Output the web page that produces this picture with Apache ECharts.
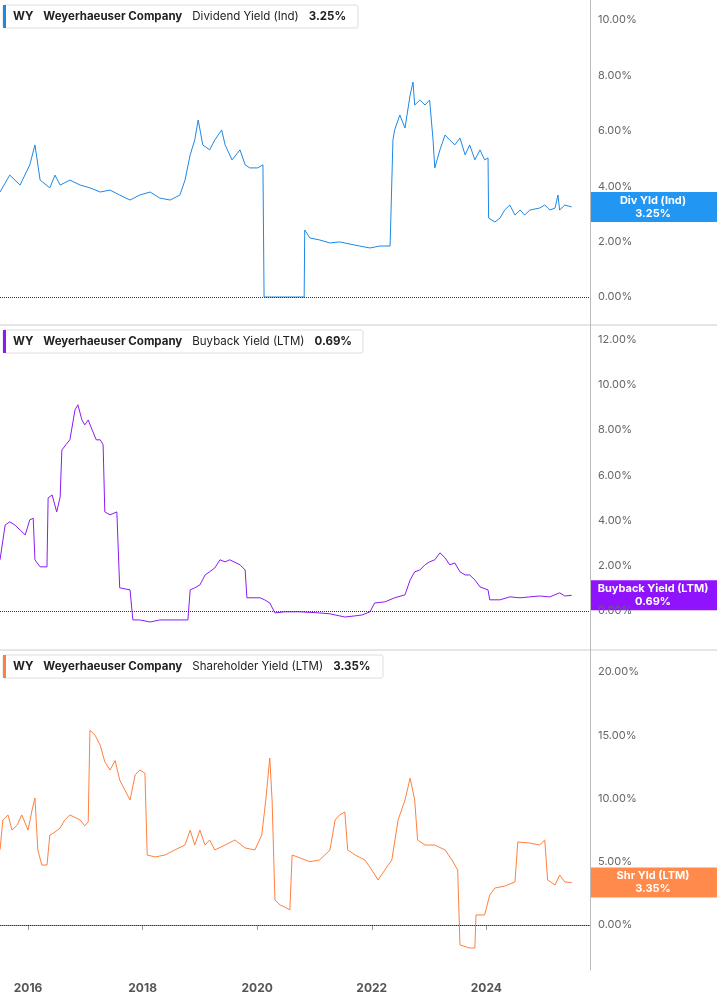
<!DOCTYPE html>
<html><head><meta charset="utf-8">
<script src="https://cdn.jsdelivr.net/npm/echarts@6/dist/echarts.min.js"></script>
<style>html,body{margin:0;padding:0;background:#fff}#c{width:717px;height:1005px}</style>
</head><body><div id="c"></div>
<script>
const yearTicks=[2016,2018,2020,2022,2024];
const divTicks=[0,2,4,6,8,10];
const bbTicks=[0,2,4,6,8,10,12];
const shTicks=[0,5,10,15,20];
const divYield=[[2015.51,3.79],[2015.68,4.40],[2015.86,4.04],[2016.03,4.77],[2016.12,5.49],[2016.21,4.22],[2016.38,3.94],[2016.47,4.40],[2016.56,4.04],[2016.73,4.22],[2016.91,4.04],[2017.08,3.94],[2017.26,3.79],[2017.43,3.86],[2017.60,3.68],[2017.78,3.50],[2017.95,3.68],[2018.13,3.79],[2018.30,3.57],[2018.48,3.50],[2018.65,3.68],[2018.74,4.22],[2018.83,5.13],[2018.91,5.67],[2018.97,6.39],[2019.05,5.49],[2019.17,5.31],[2019.26,5.67],[2019.38,6.03],[2019.44,5.49],[2019.56,4.95],[2019.70,5.31],[2019.79,4.77],[2019.87,4.66],[2020.01,4.66],[2020.10,4.77],[2020.12,0],[2020.82,0],[2020.83,2.42],[2020.92,2.13],[2021.09,2.06],[2021.27,1.95],[2021.44,1.99],[2021.62,1.91],[2021.79,1.84],[2021.97,1.77],[2022.14,1.84],[2022.32,1.84],[2022.37,5.67],[2022.40,6.03],[2022.49,6.57],[2022.58,6.10],[2022.67,7.29],[2022.72,7.76],[2022.75,6.93],[2022.84,7.11],[2022.93,6.93],[2023.01,7.11],[2023.07,5.67],[2023.10,4.66],[2023.19,5.31],[2023.28,5.85],[2023.36,5.67],[2023.45,5.49],[2023.54,5.74],[2023.63,5.13],[2023.71,5.49],[2023.80,4.95],[2023.89,5.31],[2023.97,4.95],[2024.03,5.02],[2024.04,2.85],[2024.15,2.71],[2024.24,2.85],[2024.32,3.14],[2024.41,3.32],[2024.50,2.96],[2024.59,3.14],[2024.67,2.96],[2024.76,3.14],[2024.93,3.21],[2025.02,3.32],[2025.11,3.14],[2025.20,3.21],[2025.25,3.68],[2025.28,3.14],[2025.37,3.32],[2025.49,3.25]];
const buyback=[[2015.51,2.26],[2015.60,3.80],[2015.68,3.94],[2015.77,3.80],[2015.86,3.58],[2015.95,3.36],[2016.03,4.03],[2016.09,4.10],[2016.12,2.26],[2016.21,1.95],[2016.33,1.95],[2016.35,5.00],[2016.42,5.13],[2016.50,4.38],[2016.56,5.04],[2016.59,7.12],[2016.66,7.35],[2016.73,7.57],[2016.82,8.90],[2016.87,9.12],[2016.94,8.45],[2016.99,8.23],[2017.05,8.45],[2017.12,8.00],[2017.19,7.57],[2017.26,7.57],[2017.31,7.35],[2017.34,4.38],[2017.43,4.25],[2017.55,4.38],[2017.60,1.02],[2017.78,0.93],[2017.83,-0.40],[2017.95,-0.40],[2018.13,-0.49],[2018.30,-0.40],[2018.48,-0.40],[2018.65,-0.40],[2018.79,-0.40],[2018.83,0.93],[2018.91,1.02],[2019.00,1.15],[2019.09,1.59],[2019.17,1.73],[2019.26,1.90],[2019.35,2.26],[2019.44,2.17],[2019.52,2.26],[2019.70,2.04],[2019.79,1.81],[2019.82,0.58],[2020.05,0.58],[2020.13,0.49],[2020.22,0.35],[2020.31,-0.09],[2020.48,-0.04],[2020.75,-0.04],[2021.09,-0.09],[2021.27,-0.13],[2021.53,-0.27],[2021.71,-0.22],[2021.83,-0.18],[2021.97,-0.04],[2022.05,0.35],[2022.23,0.40],[2022.40,0.58],[2022.58,0.71],[2022.67,1.37],[2022.75,1.73],[2022.84,1.81],[2022.93,2.04],[2023.01,2.17],[2023.10,2.26],[2023.19,2.57],[2023.28,2.35],[2023.36,2.04],[2023.45,2.12],[2023.54,1.73],[2023.63,1.59],[2023.71,1.59],[2023.80,1.37],[2023.89,1.06],[2024.03,0.93],[2024.06,0.49],[2024.24,0.49],[2024.41,0.62],[2024.59,0.58],[2024.76,0.62],[2024.93,0.66],[2025.11,0.62],[2025.28,0.80],[2025.37,0.66],[2025.49,0.69]];
const shareholder=[[2015.51,5.93],[2015.56,8.30],[2015.65,8.70],[2015.72,7.50],[2015.81,7.90],[2015.89,8.70],[2016.00,7.50],[2016.07,9.09],[2016.12,10.04],[2016.17,5.93],[2016.24,4.74],[2016.33,4.74],[2016.38,7.11],[2016.47,7.35],[2016.56,7.67],[2016.64,8.30],[2016.73,8.70],[2016.91,8.30],[2016.99,7.83],[2017.05,8.15],[2017.08,15.40],[2017.17,15.00],[2017.26,14.20],[2017.34,12.90],[2017.43,12.25],[2017.52,13.00],[2017.60,11.46],[2017.69,10.67],[2017.78,9.88],[2017.87,11.86],[2017.95,12.25],[2018.04,12.00],[2018.08,5.53],[2018.22,5.38],[2018.39,5.53],[2018.56,5.93],[2018.74,6.32],[2018.83,7.50],[2018.91,6.32],[2019.00,7.50],[2019.09,6.32],[2019.17,6.72],[2019.26,5.93],[2019.44,6.32],[2019.61,6.72],[2019.79,6.09],[2019.96,5.93],[2020.08,7.11],[2020.15,9.88],[2020.22,13.20],[2020.26,9.88],[2020.31,1.98],[2020.40,1.58],[2020.48,1.42],[2020.57,1.19],[2020.61,5.53],[2020.75,5.30],[2020.92,5.00],[2021.09,5.14],[2021.27,5.93],[2021.36,8.30],[2021.44,8.70],[2021.53,8.93],[2021.58,5.93],[2021.71,5.53],[2021.88,5.14],[2022.00,4.35],[2022.11,3.56],[2022.23,4.35],[2022.35,5.14],[2022.46,8.30],[2022.58,9.88],[2022.67,11.60],[2022.75,9.88],[2022.80,6.72],[2022.93,6.32],[2023.10,6.32],[2023.28,5.93],[2023.40,5.14],[2023.50,4.35],[2023.54,-1.58],[2023.71,-1.82],[2023.80,-1.82],[2023.82,0.79],[2023.97,0.79],[2024.06,2.37],[2024.15,2.92],[2024.32,3.08],[2024.50,3.40],[2024.55,6.56],[2024.76,6.48],[2024.93,6.32],[2025.02,6.72],[2025.07,3.56],[2025.20,3.16],[2025.28,3.95],[2025.37,3.40],[2025.49,3.35]];

const panels=[
 {name:'Dividend Yield (Ind)',val:'3.25%',tag:'Div Yld (Ind)',color:'#1e88e5',tagColor:'#2196f3',data:divYield,ticks:divTicks,min:-1.01,max:10.72,top:0,h:325,boxW:355},
 {name:'Buyback Yield (LTM)',val:'0.69%',tag:'Buyback Yield (LTM)',color:'#8a1cf0',tagColor:'#9013fe',data:buyback,ticks:bbTicks,min:-1.73,max:12.65,top:325,h:325,boxW:360},
 {name:'Shareholder Yield (LTM)',val:'3.35%',tag:'Shr Yld (LTM)',color:'#ff7f3f',tagColor:'#ff8a4c',data:shareholder,ticks:shTicks,min:-3.56,max:21.74,top:650,h:320,boxW:380}
];
const chart=echarts.init(document.getElementById('c'));
const grids=[],xAxes=[],yAxes=[],series=[];
panels.forEach((p,i)=>{
 grids.push({left:0,width:590,top:p.top,height:p.h});
 xAxes.push({type:'value',gridIndex:i,min:2015.51,max:2025.81,splitLine:{show:false},
  axisLine:{show:i===2,lineStyle:{color:'#999'}},
  axisTick:{show:i===2,customValues:yearTicks,length:5,lineStyle:{color:'#999'}},
  axisLabel:{show:i===2,customValues:yearTicks,color:'#555',fontSize:12,fontWeight:'bold',fontFamily:'Inter',margin:12,formatter:v=>String(v)}});
 yAxes.push({type:'value',gridIndex:i,position:'right',min:p.min,max:p.max,splitLine:{show:false},
  axisLine:{show:true,lineStyle:{color:'#bbb'}},axisTick:{show:false},
  axisLabel:{customValues:p.ticks,color:'#666',fontSize:11,fontFamily:'Inter',margin:8,formatter:v=>v.toFixed(2)+'%'}});
 series.push({type:'line',xAxisIndex:i,yAxisIndex:i,data:p.data,showSymbol:false,lineStyle:{width:1,color:p.color},
  markLine:{silent:true,symbol:'none',label:{show:false},lineStyle:{type:'dotted',color:'#333',width:1},data:[{yAxis:0}]}});
});
chart.setOption({animation:false,grid:grids,xAxis:xAxes,yAxis:yAxes,series:series});
const g=[];
[325,650].forEach(y=>g.push({type:'line',shape:{x1:0,y1:y,x2:717,y2:y},style:{stroke:'#ccc',lineWidth:1}}));
panels.forEach((p,i)=>{
 const by=p.top+5;
 g.push({type:'rect',shape:{x:3,y:by,width:p.boxW,height:23,r:2},style:{fill:'#fff',stroke:'#ddd'}});
 g.push({type:'rect',shape:{x:3,y:by,width:3,height:23},style:{fill:p.color}});
 g.push({type:'text',x:13,y:by+12,style:{text:'{b|WY}   {b|Weyerhaeuser Company}   {n|'+p.name+'}   {b|'+p.val+'}',verticalAlign:'middle',
  rich:{b:{fontWeight:'bold',fontSize:11.5,fontFamily:'Inter',fill:'#222'},n:{fontSize:11.5,fontFamily:'Inter',fill:'#222'}}}});
 const last=p.data[p.data.length-1][1];
 const py=chart.convertToPixel({yAxisIndex:i},last);
 g.push({type:'rect',shape:{x:590,y:py-15,width:127,height:30},style:{fill:p.tagColor}});
 g.push({type:'text',x:653,y:py,style:{text:p.tag+'\n'+p.val,align:'center',verticalAlign:'middle',fill:'#fff',fontSize:11,fontWeight:'bold',fontFamily:'Inter',lineHeight:13}});
});
chart.setOption({graphic:g});
</script></body></html>
